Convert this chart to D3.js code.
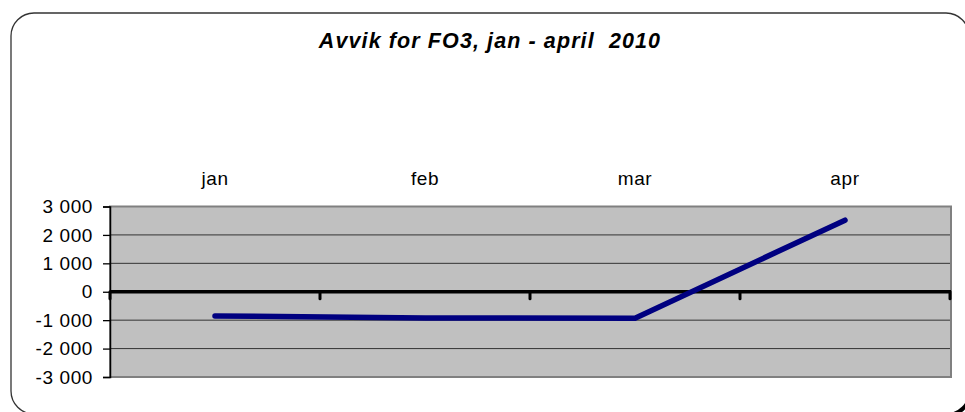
<!DOCTYPE html>
<html>
<head>
<meta charset="utf-8">
<script src="https://cdn.jsdelivr.net/npm/d3@7"></script>
<style>
  html, body { margin: 0; padding: 0; background: #fff; overflow: hidden; }
  svg { display: block; font-family: "Liberation Sans", Arial, sans-serif; }
</style>
</head>
<body>
<svg id="chart" width="965" height="412"></svg>
<script>
// data
const months = ['jan', 'feb', 'mar', 'apr']
const avvik = [-850, -920, -930, 2520]
const yTicks = [-3000, -2000, -1000, 0, 1000, 2000, 3000]
const title = 'Avvik for FO3, jan - april  2010'

const svg = d3.select('#chart')
const plot = {left: 110, right: 951, top: 206.5, bottom: 377}
const W = 965, H = 412

// ramme: bare de synlige delene, høyre/nedre kant ligger utenfor bildet
const r = 23
const fr = {x0: 11, y0: 13, x1: 969, y1: 414}
const framePath = d3.path()
framePath.moveTo(fr.x0, fr.y1 - r)
framePath.lineTo(fr.x0, fr.y0 + r)
framePath.arcTo(fr.x0, fr.y0, fr.x0 + r, fr.y0, r)
framePath.lineTo(fr.x1 - r, fr.y0)
framePath.arcTo(fr.x1, fr.y0, fr.x1, fr.y0 + r, r)
const frameBottom = d3.path()
frameBottom.moveTo(fr.x0, fr.y1 - r)
frameBottom.arcTo(fr.x0, fr.y1, fr.x0 + r, fr.y1, r)
const shadowCorner = d3.path()
shadowCorner.moveTo(fr.x1 + 1, fr.y1 - r - 4)
shadowCorner.arcTo(fr.x1 + 1, fr.y1 + 1, fr.x1 - r - 4, fr.y1 + 1, r)

svg.append('path').attr('d', framePath.toString())
    .attr('fill', 'none').attr('stroke', '#333').attr('stroke-width', 1.3)
svg.append('path').attr('d', frameBottom.toString())
    .attr('fill', 'none').attr('stroke', '#333').attr('stroke-width', 1.3)
svg.append('path').attr('d', shadowCorner.toString())
    .attr('fill', 'none').attr('stroke', '#000').attr('stroke-width', 4)

svg.append('text')
    .attr('x', 490).attr('y', 48)
    .attr('text-anchor', 'middle')
    .attr('xml:space', 'preserve')
    .style('white-space', 'pre')
    .style('font-size', '21.5px')
    .style('font-weight', 'bold')
    .style('font-style', 'italic')
    .style('letter-spacing', '1.1px')
    .text(title)

const x = d3.scaleBand().domain(months).range([plot.left, plot.right - 1]).padding(0)
const y = d3.scaleLinear().domain([-3000, 3000]).range([plot.bottom, plot.top])

const fmt = d3.formatLocale({decimal: ',', thousands: ' ', grouping: [3], currency: ['', ''], minus: '-'}).format(',')

// plottområde
svg.append('rect')
    .attr('x', plot.left).attr('y', plot.top)
    .attr('width', plot.right - plot.left).attr('height', plot.bottom - plot.top)
    .attr('fill', '#c0c0c0')
    .attr('stroke', '#808080')
    .attr('stroke-width', 2)

svg.append('g')
    .selectAll('line')
    .data(yTicks.filter(d => d !== 0 && d !== 3000 && d !== -3000))
    .join('line')
    .attr('x1', plot.left).attr('x2', plot.right - 1)
    .attr('y1', d => y(d)).attr('y2', d => y(d))
    .attr('stroke', '#333')
    .attr('stroke-width', 1)

// y-akse
const yAxis = svg.append('g')
    .attr('transform', 'translate(' + plot.left + ',0)')
    .call(d3.axisLeft(y).tickValues(yTicks).tickSize(7).tickPadding(10).tickFormat(fmt))
yAxis.select('.domain').attr('stroke', '#000').attr('stroke-width', 1.5)
yAxis.selectAll('.tick line').attr('stroke', '#000').attr('stroke-width', 1.3)
yAxis.selectAll('.tick text')
    .attr('fill', '#000')
    .style('font-size', '19px')
    .style('letter-spacing', '0.6px')
    .style('font-family', '"Liberation Sans", Arial, sans-serif')

// nullinje med kategorimerker
const zero = svg.append('g')
zero.append('line')
    .attr('x1', plot.left).attr('x2', plot.right)
    .attr('y1', y(0)).attr('y2', y(0))
    .attr('stroke', '#000')
    .attr('stroke-width', 3.5)
const bounds = months.map(m => x(m)).concat([x(months[months.length - 1]) + x.bandwidth()])
zero.selectAll('.cat-tick')
    .data(bounds)
    .join('line')
    .attr('class', 'cat-tick')
    .attr('x1', d => d).attr('x2', d => d)
    .attr('y1', y(0)).attr('y2', y(0) + 7)
    .attr('stroke', '#000')
    .attr('stroke-width', 3)
    .attr('stroke-linecap', 'round')

// kategorietiketter over plottet
svg.append('g')
    .selectAll('text')
    .data(months)
    .join('text')
    .attr('x', d => x(d) + x.bandwidth() / 2)
    .attr('y', 185)
    .attr('text-anchor', 'middle')
    .style('font-size', '19px')
    .style('letter-spacing', '0.6px')
    .text(d => d)

// linje
const line = d3.line()
    .x((d, i) => x(months[i]) + x.bandwidth() / 2)
    .y(d => y(d))

svg.append('path')
    .datum(avvik)
    .attr('d', line)
    .attr('fill', 'none')
    .attr('stroke', '#000080')
    .attr('stroke-width', 5.5)
    .attr('stroke-linecap', 'round')
    .attr('stroke-linejoin', 'round')
</script>
</body>
</html>
